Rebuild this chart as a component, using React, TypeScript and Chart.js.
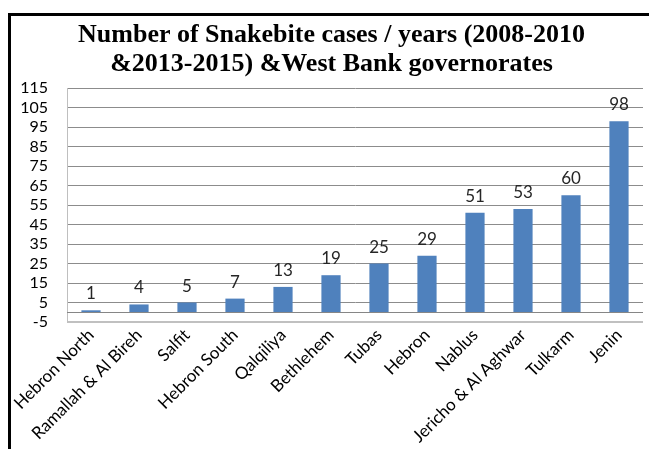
import React, { useEffect, useRef } from "react";
import { Chart, registerables } from "chart.js";

Chart.register(...registerables);

const categories = [
  "Hebron North",
  "Ramallah & Al Bireh",
  "Salfit",
  "Hebron South",
  "Qalqiliya",
  "Bethlehem",
  "Tubas",
  "Hebron",
  "Nablus",
  "Jericho & Al Aghwar",
  "Tulkarm",
  "Jenin",
];
const cases = [1, 4, 5, 7, 13, 19, 25, 29, 51, 53, 60, 98];
const titleLines = [
  "Number of Snakebite cases / years (2008-2010",
  "&2013-2015) &West Bank governorates",
];
const yMin = -5;
const yMax = 115;
const yStep = 10;

const framePlugin = {
  id: "frame",
  beforeDraw(chart: any) {
    const ctx = chart.ctx;
    ctx.save();
    ctx.fillStyle = "#ffffff";
    ctx.fillRect(0, 0, chart.width, chart.height);
    ctx.fillStyle = "#000000";
    ctx.fillRect(8, 13, chart.width - 8, 3);
    ctx.fillRect(8, 13, 3, chart.height - 13);
    ctx.restore();
  },
};

const zeroLinePlugin = {
  id: "zeroLine",
  afterDatasetsDraw(chart: any) {
    const { ctx, chartArea, scales } = chart;
    const y = Math.round(scales.y.getPixelForValue(0)) + 0.5;
    ctx.save();
    ctx.strokeStyle = "#868686";
    ctx.lineWidth = 1;
    ctx.beginPath();
    ctx.moveTo(chartArea.left, y);
    ctx.lineTo(chartArea.right, y);
    ctx.stroke();
    ctx.restore();
  },
};

const valueLabelPlugin = {
  id: "valueLabels",
  afterDatasetsDraw(chart: any) {
    const { ctx } = chart;
    const meta = chart.getDatasetMeta(0);
    const data = chart.data.datasets[0].data;
    ctx.save();
    ctx.font = "17px Lato";
    ctx.fillStyle = "#262626";
    ctx.textAlign = "center";
    ctx.textBaseline = "alphabetic";
    meta.data.forEach((bar: any, i: number) => {
      ctx.fillText(String(data[i]), bar.x, bar.y - 11);
    });
    ctx.restore();
  },
};

export default function App() {
  const canvasRef = useRef<HTMLCanvasElement | null>(null);

  useEffect(() => {
    if (!canvasRef.current) return;
    const chart = new Chart(canvasRef.current, {
      type: "bar",
      data: {
        labels: categories,
        datasets: [
          {
            data: cases,
            backgroundColor: "#4F81BD",
            borderWidth: 0,
            barPercentage: 0.4,
            categoryPercentage: 1,
          },
        ],
      },
      options: {
        animation: false,
        responsive: false,
        maintainAspectRatio: false,
        layout: { padding: { left: 20, right: 6, top: 0, bottom: 0 } },
        plugins: {
          legend: { display: false },
          tooltip: { enabled: false },
          title: {
            display: true,
            text: titleLines,
            color: "#000000",
            font: { family: "'Liberation Serif'", size: 26, weight: "bold", lineHeight: 1.12 },
            padding: { top: 20.4, bottom: 9.4 },
          },
        },
        scales: {
          x: {
            grid: { display: false },
            border: { display: false },
            ticks: {
              color: "#000000",
              font: { family: "Lato", size: 17 },
              minRotation: 45,
              maxRotation: 45,
              autoSkip: false,
              padding: -5,
            },
            afterFit(scale: any) {
              scale.height = 127;
            },
          },
          y: {
            min: yMin,
            max: yMax,
            border: { display: true, color: "#bfbfbf", width: 1 },
            grid: {
              drawTicks: false,
              color: (c: any) => (c.tick && c.tick.value === yMin ? "#c0c0c0" : "#8c8c8c"),
              lineWidth: (c: any) => (c.tick && c.tick.value === yMin ? 2 : 1),
            },
            ticks: {
              stepSize: yStep,
              autoSkip: false,
              color: "#000000",
              font: { family: "Lato", size: 16 },
              padding: 19,
            },
            afterFit(scale: any) {
              scale.width = 47;
            },
          },
        },
      },
      plugins: [framePlugin, zeroLinePlugin, valueLabelPlugin],
    });
    return () => chart.destroy();
  }, []);

  return (
    <div style={{ position: "fixed", left: 0, top: 0, width: 649, height: 449, background: "#fff" }}>
      <canvas ref={canvasRef} width={649} height={449} style={{ display: "block" }} />
    </div>
  );
}
